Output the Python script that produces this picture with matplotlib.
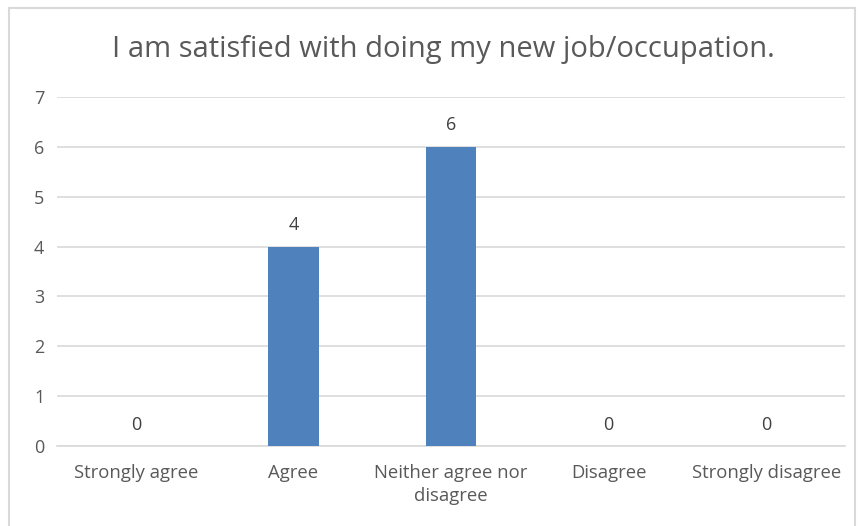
import matplotlib
matplotlib.use("Agg")
import matplotlib.pyplot as plt
from matplotlib.patches import Rectangle

categories = ["Strongly agree", "Agree", "Neither agree nor\ndisagree", "Disagree", "Strongly disagree"]
values = [0, 4, 6, 0, 0]
yticks = [0, 1, 2, 3, 4, 5, 6, 7]
title = "I am satisfied with doing my new job/occupation."

W, H = 859, 526
fig = plt.figure(figsize=(W / 100, H / 100), dpi=100)
fig.patch.set_facecolor("white")
plt.rcParams['font.family'] = ['Open Sans', 'DejaVu Sans']

# chart frame
fig.patches.append(Rectangle((9 / W, -10 / H), (855 - 9) / W, (526 - 8 + 10) / H,
                             transform=fig.transFigure, fill=False,
                             edgecolor="#d9d9d9", linewidth=1.5))

left, right = 57, 845
top, bottom = 97, 446
ax = fig.add_axes([left / W, 1 - bottom / H, (right - left) / W, (bottom - top) / H])
x = list(range(len(categories)))
bars = ax.bar(x, values, width=0.32, color="#4f81bd", zorder=3)
ax.set_xlim(-0.5, len(categories) - 0.5)
ax.set_ylim(0, 7)
ax.set_yticks(yticks)
ax.set_yticklabels([str(t) for t in yticks], color="#595959", fontsize=13)
ax.set_xticks(x)
ax.set_xticklabels(categories, color="#595959", fontsize=13.3, linespacing=1.35)
ax.tick_params(axis="both", length=0)
ax.tick_params(axis="y", pad=9)
ax.tick_params(axis="x", pad=13)
ax.grid(axis="y", color="#d9d9d9", linewidth=1.2, zorder=0)
for s in ["top", "right", "left"]:
    ax.spines[s].set_visible(False)
ax.spines["bottom"].set_color("#d9d9d9")
ax.spines["bottom"].set_linewidth(1.2)

for xi, v in zip(x, values):
    ax.annotate(str(v), (xi, v), xytext=(0, 9), textcoords="offset points",
                ha="center", va="bottom", color="#404040", fontsize=13)

fig.text(443 / W, 1 - 50 / H, title, ha="center", va="center",
         fontsize=21, color="#595959")

fig.savefig("out.png", dpi=100)
